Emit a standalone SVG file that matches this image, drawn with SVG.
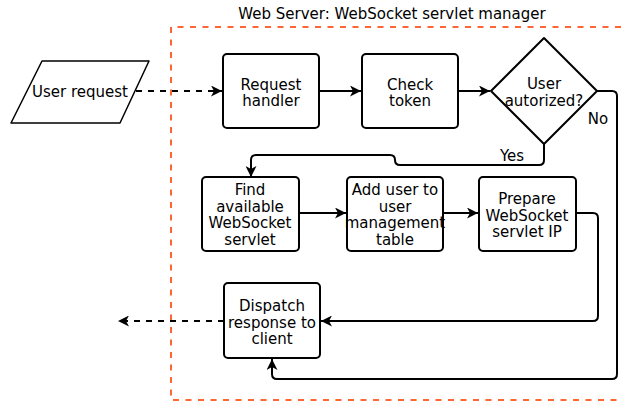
<svg xmlns="http://www.w3.org/2000/svg" width="621" height="402" viewBox="0 0 621 402">
  <style>
    text { font-family: "DejaVu Sans", Verdana, sans-serif; font-size: 15px; fill: #000; text-anchor: middle; }
    .box { fill: #fff; stroke: #000; stroke-width: 2; }
    .io { fill: #fff; stroke: #000; stroke-width: 1.5; stroke-linejoin: round; }
    .edge { fill: none; stroke: #000; stroke-width: 2; marker-end: url(#arrow); }
    .dashed { stroke-dasharray: 6 6; }
    .frame { fill: none; stroke: #FF6633; stroke-width: 2; stroke-dasharray: 6 6.5; }
  </style>
  <defs>
    <marker id="arrow" markerUnits="userSpaceOnUse" markerWidth="11" markerHeight="11" refX="11" refY="5.5" orient="auto">
      <path d="M0,0 L11,5.5 L0,11 L3,5.5 Z" fill="#000"/>
    </marker>
  </defs>

  <rect width="621" height="402" fill="#fff"/>

  <!-- server boundary -->
  <g id="web-server">
    <path class="frame" d="M621,27 H171 V400 H621"/>
    <text x="392" y="19">Web Server: WebSocket servlet manager</text>
  </g>

  <!-- connectors -->
  <g id="connectors">
    <path class="edge dashed" d="M136,91 H222"/>
    <path class="edge" d="M319,91 H361"/>
    <path class="edge" d="M458,91 H490"/>
    <path class="edge" d="M544,144 V160 Q544,165 539,165 H400 Q395,165 395,160 Q395,155 390,155 H256 Q251,155 251,160 V177"/>
    <path class="edge" d="M299,213 H346"/>
    <path class="edge" d="M443,213 H478"/>
    <path class="edge" d="M576,213 H593 Q598,213 598,218 V316 Q598,321 593,321 H321"/>
    <path class="edge dashed" d="M224,321 H118"/>
    <path class="edge" d="M597,91 H612 Q617,91 617,96 V374 Q617,379 612,379 H277 Q272,379 272,374 V359"/>
    <text x="512" y="161">Yes</text>
    <text x="598" y="124">No</text>
  </g>

  <g id="user-request">
    <path class="io" d="M42,61 H149 L120,123 H11 Z"/>
    <text x="80" y="97">User request</text>
  </g>

  <g id="request-handler">
    <rect class="box" x="223" y="54" width="96" height="74" rx="4"/>
    <text x="271" y="89.5">Request</text>
    <text x="271" y="106">handler</text>
  </g>

  <g id="check-token">
    <rect class="box" x="362" y="54" width="96" height="74" rx="4"/>
    <text x="410" y="89.5">Check</text>
    <text x="410" y="106">token</text>
  </g>

  <g id="user-authorized">
    <path class="box" d="M544,38 L597,91 L544,144 L491,91 Z" stroke-linejoin="round"/>
    <text x="544" y="89">User</text>
    <text x="544" y="106">autorized?</text>
  </g>

  <g id="find-servlet">
    <rect class="box" x="202" y="177" width="97" height="74" rx="4"/>
    <text x="250" y="195">Find</text>
    <text x="250" y="211.5">available</text>
    <text x="250" y="228">WebSocket</text>
    <text x="250" y="245">servlet</text>
  </g>

  <g id="add-user">
    <rect class="box" x="347" y="177" width="96" height="74" rx="4"/>
    <text x="395" y="195">Add user to</text>
    <text x="395" y="211.5">user</text>
    <text x="395" y="228">management</text>
    <text x="395" y="245">table</text>
  </g>

  <g id="prepare-ip">
    <rect class="box" x="479" y="177" width="97" height="74" rx="4"/>
    <text x="527" y="204">Prepare</text>
    <text x="527" y="220.5">WebSocket</text>
    <text x="527" y="237">servlet IP</text>
  </g>

  <g id="dispatch-response">
    <rect class="box" x="224" y="283" width="96" height="75" rx="4"/>
    <text x="272" y="311">Dispatch</text>
    <text x="272" y="327.5">response to</text>
    <text x="272" y="344">client</text>
  </g>
</svg>
